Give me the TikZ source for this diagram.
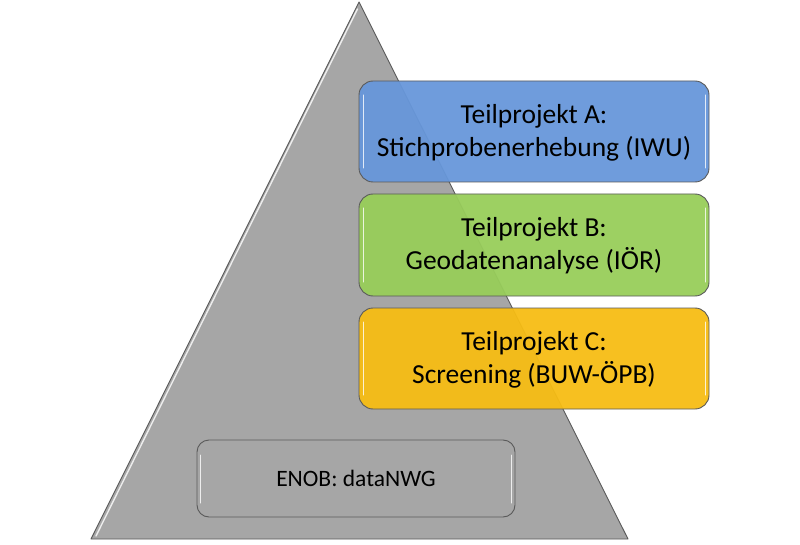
\documentclass[tikz,border=0pt]{standalone}
\usepackage{fontspec}
\setmainfont{Carlito}
\definecolor{tri}{HTML}{A6A6A6}
\definecolor{edge}{HTML}{5A5A5A}
\definecolor{cA}{HTML}{6797DA}
\definecolor{cB}{HTML}{98CD5A}
\definecolor{cC}{HTML}{F7BD14}
\tikzset{
  tp/.style={draw=edge, line width=0.9pt, rounded corners=14pt, fill opacity=0.95, text opacity=1},
  lbl/.style={font=\fontsize{27.5}{33}\selectfont, align=center, text=black},
  hl/.style={white, line width=1.4pt, line cap=round, opacity=0.8}
}
\begin{document}
\begin{tikzpicture}[x=1pt,y=-1pt]
\useasboundingbox (0,0) rectangle (800,545);
% pyramid
\filldraw[fill=tri, draw=edge, line width=0.9pt, line join=round] (359,2) coordinate (apex) -- (628,539) coordinate (br) -- (91,539) coordinate (bl) -- cycle;
\draw[hl] (357.5,9) -- (96,536);
% ENOB box
\draw[draw=edge, line width=0.9pt, rounded corners=12pt] (197,440) rectangle (515,517);
\draw[hl, line width=1pt] (200.5,455) -- (200.5,503);
\draw[hl, line width=1pt] (511.5,455) -- (511.5,503);
\node[lbl, font=\fontsize{23.5}{28}\selectfont] (enob) at (356,478.5) {ENOB: dataNWG};
% Teilprojekte
\filldraw[tp, fill=cA] (359,81) rectangle (709,182);
\filldraw[tp, fill=cB] (359,194) rectangle (709,296);
\filldraw[tp, fill=cC] (359,308) rectangle (709,409);
\foreach \t/\b in {81/182,194/296,308/409}{
  \draw[hl, line width=1pt] (363,\t+14) -- (363,\b-14);
  \draw[hl, line width=1pt] (705,\t+14) -- (705,\b-14);
}
\node[lbl] (a) at (534,133) {Teilprojekt A:\\Stichprobenerhebung (IWU)};
\node[lbl] (b) at (534,246) {Teilprojekt B:\\Geodatenanalyse (IÖR)};
\node[lbl] (c) at (534,360) {Teilprojekt C:\\Screening (BUW-ÖPB)};
\end{tikzpicture}
\end{document}
